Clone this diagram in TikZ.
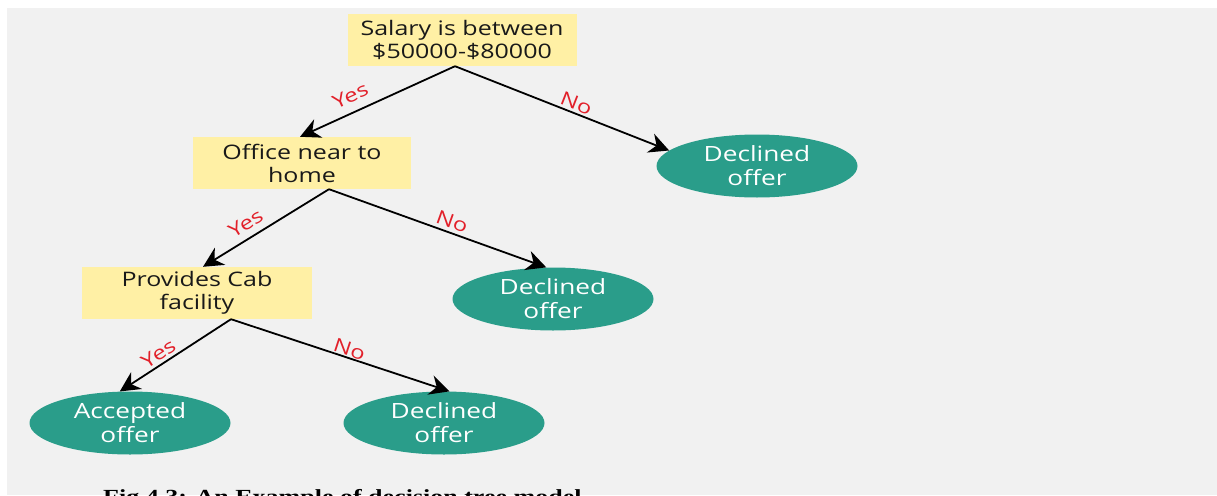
\documentclass[tikz,border=0pt]{standalone}
\usepackage{fontspec}
\setmainfont{Open Sans}[FakeStretch=1.25]
\newfontfamily\capfont{Liberation Serif}[FakeStretch=1.3]
\usetikzlibrary{shapes.geometric,arrows.meta}
\definecolor{boxyellow}{HTML}{FFF0A5}
\definecolor{leafgreen}{HTML}{2A9D8A}
\definecolor{bggray}{HTML}{F1F1F1}
\definecolor{ansred}{HTML}{E2202A}
\begin{document}
\begin{tikzpicture}[x=1pt,y=-1pt,
		test/.style={fill=boxyellow,minimum height=52pt,inner sep=0pt,align=center,text=black!90,font=\fontsize{20}{23}\selectfont},
		leaf/.style={ellipse,fill=leafgreen,minimum width=201pt,minimum height=63pt,inner sep=0pt,align=center,text=white,font=\fontsize{21}{24}\selectfont},
		arr/.style={line width=1.8pt,-{Stealth[length=20pt,width=20pt]}},
		ans/.style={text=ansred,font=\fontsize{19}{20}\selectfont,sloped,above,pos=0.6,inner sep=6pt}]
		\clip (0,0) rectangle (1217,495);
		\fill[white] (0,0) rectangle (1217,495);
		\fill[bggray] (7,8) rectangle (1217,495);
		\node[test,minimum width=229pt] (salary) at (462,40) {Salary is between\\\$50000-\$80000};
		\node[test,minimum width=218pt] (office) at (302,163) {Office near to\\home};
		\node[test,minimum width=230pt] (cab) at (197,293) {Provides Cab\\facility};
		\node[leaf] (dec1) at (757,166) {Declined\\offer};
		\node[leaf] (dec2) at (553,299) {Declined\\offer};
		\node[leaf] (acc) at (130,423) {Accepted\\offer};
		\node[leaf] (dec3) at (444,423) {Declined\\offer};
		\coordinate (s1) at ([xshift=-7pt]salary.south);
		\coordinate (s2) at ([xshift=27pt]office.south);
		\coordinate (s3) at ([xshift=34pt]cab.south);
		\draw[arr] (s1) -- node[ans,pos=0.63,inner sep=9pt] {Yes} ([xshift=-2pt]office.north);
		\draw[arr] (s1) -- node[ans,pos=0.55,inner sep=2pt] {No} (dec1.170);
		\draw[arr] (s2) -- node[ans,inner sep=7pt] {Yes} ([xshift=6pt]cab.north);
		\draw[arr] (s2) -- node[ans,pos=0.55,inner sep=3pt] {No} (dec2.102);
		\draw[arr] (s3) -- node[ans,inner sep=3pt] {Yes} (acc.108);
		\draw[arr] (s3) -- node[ans,pos=0.53,inner sep=1pt] {No} (dec3.80);
		\node[anchor=north west,inner sep=0pt,font=\capfont\bfseries\fontsize{20}{24}\selectfont] (caption) at (103,489) {Fig 4.3: An Example of decision tree model};
	\end{tikzpicture}
\end{document}
